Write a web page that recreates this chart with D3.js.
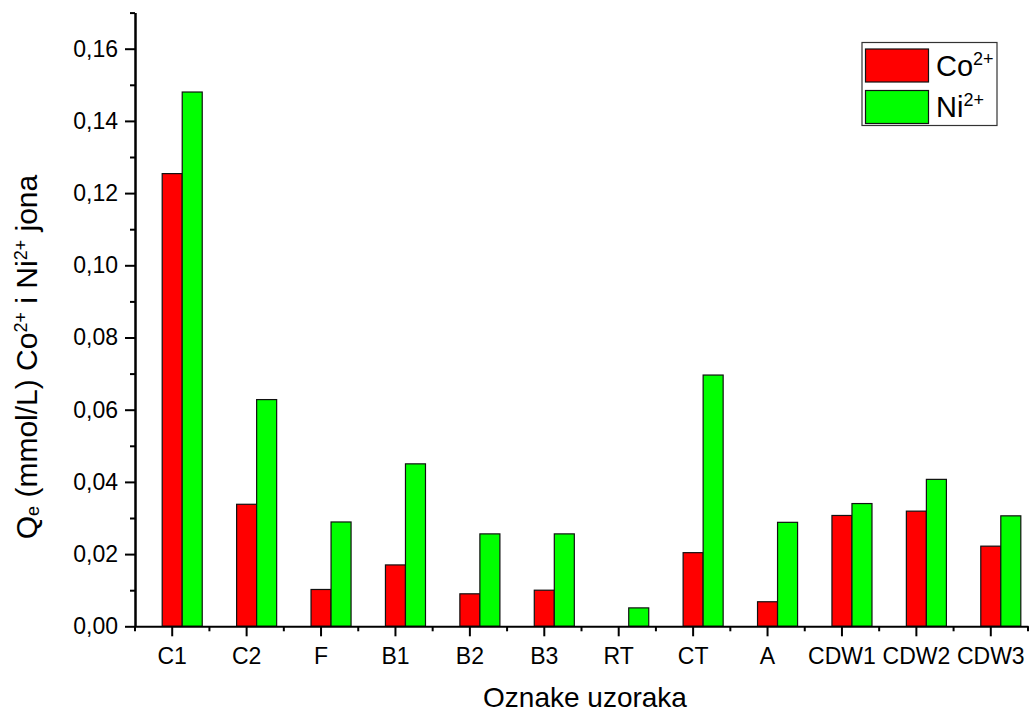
<!DOCTYPE html>
<html>
<head>
<meta charset="utf-8" />
<script src="https://cdn.jsdelivr.net/npm/d3@7"></script>
<style>
    body { margin: 0; background: #fff; }
    svg { display: block; font-family: "Liberation Sans", Arial, sans-serif; }
    .axis path, .axis line { stroke: #000; stroke-width: 2; }
    .axis text { font-family: "Liberation Sans", Arial, sans-serif; font-size: 23px; fill: #000; }
</style>
</head>
<body>
<script>
    var categories = ["C1", "C2", "F", "B1", "B2", "B3", "RT", "CT", "A", "CDW1", "CDW2", "CDW3"];
    var coValues = [0.1254, 0.0338, 0.0102, 0.0170, 0.0090, 0.0100, 0, 0.0204, 0.0068, 0.0307, 0.0319, 0.0222];
    var niValues = [0.1480, 0.0628, 0.0289, 0.0450, 0.0256, 0.0256, 0.0051, 0.0696, 0.0288, 0.0340, 0.0407, 0.0306];
    var seriesNames = ["Co", "Ni"];
    var seriesColors = ["#ff0000", "#00ff00"];
    var yMajorTicks = [0, 0.02, 0.04, 0.06, 0.08, 0.10, 0.12, 0.14, 0.16];
    var yMinorTicks = [0.01, 0.03, 0.05, 0.07, 0.09, 0.11, 0.13, 0.15, 0.17];

    var svgWidth = 1030, svgHeight = 715;
    var margin = {top: 12.6, right: 2, bottom: 88.7, left: 135};
    var plotBottom = svgHeight - margin.bottom;

    var svg = d3.select("body").append("svg")
        .attr("width", svgWidth)
        .attr("height", svgHeight);

    var x = d3.scaleBand()
        .domain(categories)
        .range([margin.left, 1028])
        .padding(0);

    var y = d3.scaleLinear()
        .domain([0, 0.17])
        .range([plotBottom, margin.top]);

    var barW = x.bandwidth() * 0.269;
    // red bar centred on the tick, green one right next to it
    var xs = d3.scaleBand().domain(seriesNames).range([0, barW * 2]);

    var locale = d3.formatLocale({decimal: ",", thousands: ".", grouping: [3], currency: ["", ""]});
    var fmt = locale.format(".2f");

    // bars
    var rows = categories.map(function(c, i) {
        return {cat: c, vals: [coValues[i], niValues[i]]};
    });
    var groups = svg.append("g").selectAll("g")
        .data(rows)
        .enter().append("g")
        .attr("transform", function(d) {
            return "translate(" + (x(d.cat) + x.bandwidth() / 2 - barW / 2) + ",0)";
        });
    groups.selectAll("rect")
        .data(function(d) { return d.vals.map(function(v, k) { return {v: v, k: k}; }); })
        .enter().append("rect")
        .filter(function(d) { return d.v > 0; })
        .attr("x", function(d) { return xs(seriesNames[d.k]); })
        .attr("width", xs.bandwidth())
        .attr("y", function(d) { return y(d.v); })
        .attr("height", function(d) { return y(0) - y(d.v); })
        .attr("fill", function(d) { return seriesColors[d.k]; })
        .attr("stroke", "#111")
        .attr("stroke-width", 1.2);

    // y axis
    svg.append("g")
        .attr("class", "axis")
        .attr("transform", "translate(" + margin.left + ",0)")
        .call(d3.axisLeft(y).tickValues(yMajorTicks).tickSize(10).tickSizeOuter(0).tickPadding(7).tickFormat(fmt));
    svg.append("g")
        .attr("class", "axis")
        .attr("transform", "translate(" + margin.left + ",0)")
        .call(d3.axisLeft(y).tickValues(yMinorTicks).tickSize(5).tickSizeOuter(0).tickFormat(""));

    // x axis
    var xAxis = svg.append("g")
        .attr("class", "axis")
        .attr("transform", "translate(0," + plotBottom + ")")
        .call(d3.axisBottom(x).tickSize(10).tickSizeOuter(0).tickPadding(11));
    var bounds = categories.map(function(c) { return x(c); }).concat([x.range()[1]]);
    xAxis.selectAll(".minor")
        .data(bounds)
        .enter().append("line")
        .attr("class", "minor")
        .attr("x1", function(d) { return d; })
        .attr("x2", function(d) { return d; })
        .attr("y1", 0)
        .attr("y2", 5);

    // axis titles
    svg.append("text")
        .attr("x", 585)
        .attr("y", 707)
        .attr("text-anchor", "middle")
        .attr("font-size", 28)
        .text("Oznake uzoraka");

    var yl = svg.append("text")
        .attr("transform", "translate(37,357) rotate(-90)")
        .attr("text-anchor", "middle")
        .attr("font-size", 30);
    yl.append("tspan").text("Q");
    yl.append("tspan").attr("font-size", 18).attr("dy", 2).text("e");
    yl.append("tspan").attr("dy", -2).text(" (mmol/L) Co");
    yl.append("tspan").attr("font-size", 18).attr("dy", -10).text("2+");
    yl.append("tspan").attr("dy", 10).text(" i Ni");
    yl.append("tspan").attr("font-size", 18).attr("dy", -10).text("2+");
    yl.append("tspan").attr("dy", 10).text(" jona");

    // legend
    var legend = svg.append("g");
    legend.append("rect")
        .attr("x", 862).attr("y", 42.5)
        .attr("width", 135).attr("height", 83)
        .attr("fill", "#fff")
        .attr("stroke", "#333")
        .attr("stroke-width", 1.2);
    var labels = ["Co", "Ni"];
    var lg = legend.selectAll(".item")
        .data(seriesNames)
        .enter().append("g")
        .attr("class", "item")
        .attr("transform", function(d, i) { return "translate(0," + (i * 41.5) + ")"; });
    lg.append("rect")
        .attr("x", 865.5).attr("y", 49)
        .attr("width", 63).attr("height", 33)
        .attr("fill", function(d, i) { return seriesColors[i]; })
        .attr("stroke", "#111")
        .attr("stroke-width", 1.2);
    var lt = lg.append("text")
        .attr("x", 936)
        .attr("y", 75.5)
        .attr("font-size", 29);
    lt.append("tspan").text(function(d, i) { return labels[i]; });
    lt.append("tspan").attr("font-size", 18).attr("dy", -11).text("2+");
</script>
</body>
</html>
